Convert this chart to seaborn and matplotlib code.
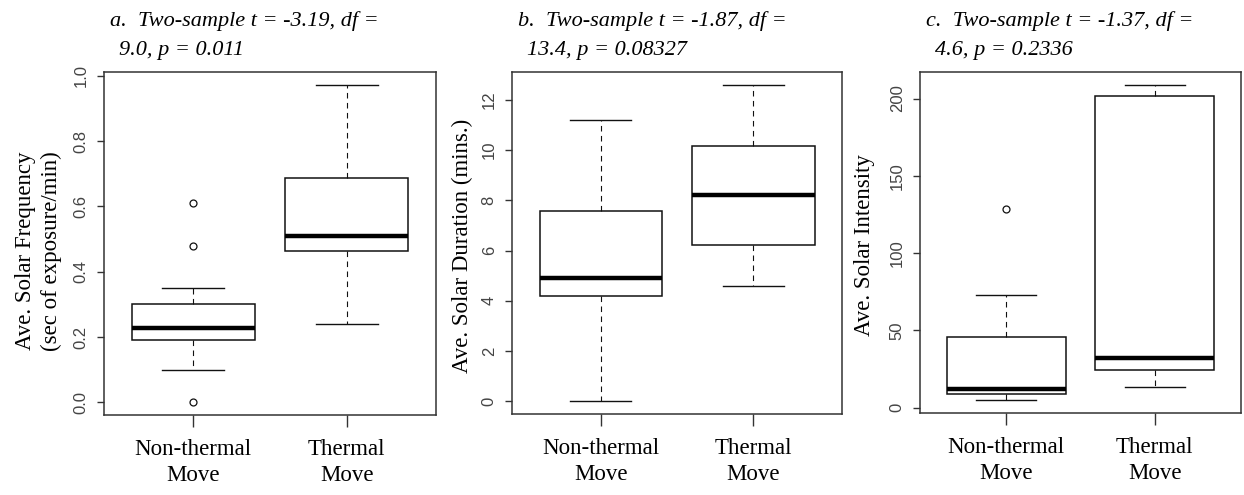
import matplotlib
matplotlib.use("Agg")
import matplotlib.pyplot as plt
import seaborn as sns
import pandas as pd
from matplotlib.ticker import FormatStrFormatter

# observacoes estimadas a partir do grafico (quartis, bigodes e outliers)
grupos = ["Non-thermal\nMove", "Thermal\nMove"]

freq_nao_termico = [0.0, 0.10, 0.15, 0.19, 0.20, 0.21, 0.228, 0.25, 0.28, 0.30, 0.35, 0.478, 0.61]
freq_termico = [0.24, 0.40, 0.465, 0.49, 0.51, 0.60, 0.686, 0.80, 0.973]

dur_nao_termico = [0.0, 3.0, 4.2, 4.5, 4.89, 6.0, 7.59, 9.0, 11.2]
dur_termico = [4.6, 5.5, 6.21, 7.0, 8.21, 9.0, 10.14, 11.5, 12.6]

int_nao_termico = [4.8, 6.0, 7.5, 8.6, 9.5, 11.0, 12.0, 20.0, 35.0, 46.0, 60.0, 73.0, 128.7]
int_termico = [13.6, 24.2, 32.4, 201.7, 209.0]

titulos = [
    ("a.  Two-sample t = -3.19, df =", "9.0, p = 0.011"),
    ("b.  Two-sample t = -1.87, df =", "13.4, p = 0.08327"),
    ("c.  Two-sample t = -1.37, df =", "4.6, p = 0.2336"),
]
rotulos_y = ["Ave. Solar Frequency\n(sec of exposure/min)", "Ave. Solar Duration (mins.)", "Ave. Solar Intensity"]
ticks_y = [[0.0, 0.2, 0.4, 0.6, 0.8, 1.0], [0, 2, 4, 6, 8, 10, 12], [0, 50, 100, 150, 200]]
formatos = ["%.1f", "%d", "%d"]

dados = [(freq_nao_termico, freq_termico), (dur_nao_termico, dur_termico), (int_nao_termico, int_termico)]

W, H = 1244, 495
fig = plt.figure(figsize=(W / 100, H / 100), dpi=100)

# posicoes dos eixos em pixels (esq, dir, topo, base)
caixas = [(104, 436, 72, 415), (512, 842, 72, 414), (920, 1241, 72, 413)]
pos_label = [(-0.127, 0.478), (-0.118, 0.491), (-0.14, 0.493)]

serif = "Liberation Serif"
sans = "Liberation Sans"
cinza = "#333333"

for i, ((nt, t), (l, r, tp, bt)) in enumerate(zip(dados, caixas)):
    ax = fig.add_axes([l / W, 1 - bt / H, (r - l) / W, (bt - tp) / H])
    df = pd.DataFrame({
        "Grupo": [grupos[0]] * len(nt) + [grupos[1]] * len(t),
        "Valor": nt + t,
    })
    sns.boxplot(x="Grupo", y="Valor", data=df, order=grupos, ax=ax, width=0.8,
                color="white", linecolor="#111111", linewidth=1.1, fliersize=5,
                whiskerprops={"linestyle": (0, (5, 4)), "linewidth": 0.8},
                capprops={"linewidth": 1.0},
                medianprops={"linewidth": 3.2, "color": "black"},
                flierprops={"marker": "o", "markerfacecolor": "none",
                            "markeredgecolor": "#111111", "markeredgewidth": 0.9})

    # limites estilo R (4% de expansao)
    todos = nt + t
    lo, hi = min(todos), max(todos)
    ext = (hi - lo) * 0.04
    ax.set_ylim(lo - ext, hi + ext)
    ax.set_xlim(-0.58, 1.58)

    ax.set_yticks(ticks_y[i])
    ax.yaxis.set_major_formatter(FormatStrFormatter(formatos[i]))
    ax.tick_params(axis="y", length=5, width=1, color=cinza, labelcolor="#444444",
                   labelsize=12, pad=6, labelrotation=90)
    for lab in ax.get_yticklabels():
        lab.set_fontfamily(sans)
        lab.set_va("center")
    ax.tick_params(axis="x", length=8.5, width=1, color=cinza, labelsize=16.5, pad=9)
    for lab in ax.get_xticklabels():
        lab.set_fontfamily(serif)
        lab.set_linespacing(1.3)

    ax.set_xlabel("")
    ax.set_ylabel(rotulos_y[i], fontsize=16.5, fontfamily=serif, linespacing=1.3)
    ax.yaxis.set_label_coords(*pos_label[i])

    for s in ax.spines.values():
        s.set_color(cinza)
        s.set_linewidth(1.1)

    # titulo em duas linhas, italico
    fig.text((l + 6) / W, 1 - 26 / H, titulos[i][0], fontsize=16, fontstyle="italic",
             fontfamily=serif, va="baseline", ha="left")
    fig.text((l + 15) / W, 1 - 55 / H, titulos[i][1], fontsize=16, fontstyle="italic",
             fontfamily=serif, va="baseline", ha="left")

fig.savefig("out.png", dpi=100, facecolor="white")
